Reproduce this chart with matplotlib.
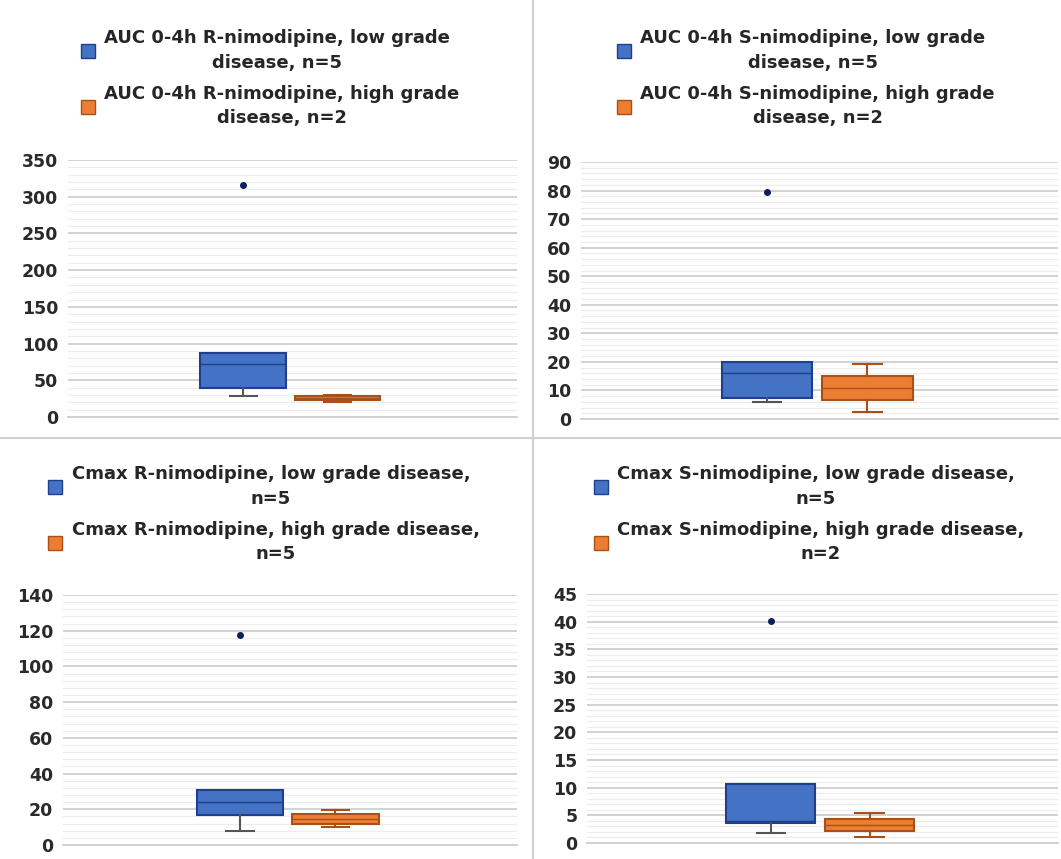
import matplotlib
matplotlib.use("Agg")
from matplotlib import pyplot as plt
from matplotlib.lines import Line2D
from matplotlib.ticker import MultipleLocator, AutoMinorLocator

plt.rcParams["font.family"] = ["DejaVu Sans"]
plt.rcParams["font.weight"] = "bold"

blue, blue_edge = "#4472C4", "#1F3F8A"
orange, orange_edge = "#ED7D31", "#A8501A"
flier_color = "#0B1F5C"

# legend labels per panel (TL, TR, BL, BR)
low_labels = [
    "AUC 0-4h R-nimodipine, low grade\ndisease, n=5",
    "AUC 0-4h S-nimodipine, low grade\ndisease, n=5",
    "Cmax R-nimodipine, low grade disease,\nn=5",
    "Cmax S-nimodipine, low grade disease,\nn=5",
]
high_labels = [
    "AUC 0-4h R-nimodipine, high grade\ndisease, n=2",
    "AUC 0-4h S-nimodipine, high grade\ndisease, n=2",
    "Cmax R-nimodipine, high grade disease,\nn=5",
    "Cmax S-nimodipine, high grade disease,\nn=2",
]

# box statistics
low_q1 = [39.5, 7.3, 16.8, 3.6]
low_med = [72, 16, 24, 4.0]
low_q3 = [87, 20, 30.8, 10.6]
low_whislo = [28.6, 6, 8, 1.8]
low_whishi = [87, 20, 30.8, 10.6]
low_outlier = [316, 79.5, 117.6, 40.1]

high_q1 = [22.5, 6.7, 12, 2.2]
high_med = [26, 11, 14.5, 3.2]
high_q3 = [29, 15, 17.2, 4.4]
high_whislo = [21, 2.5, 10.2, 1.1]
high_whishi = [29.5, 19.3, 19.6, 5.5]

y_max = [350, 90, 140, 45]
y_step = [50, 10, 20, 5]

# layout in pixels: left, right, top, bottom of plot area; legend center x, legend top y
W, H = 1061, 859
plot_boxes = [(68, 517, 160, 417), (581, 1058, 162, 419), (63, 517, 595, 845), (587, 1058, 594, 843)]
legend_pos = [(270, 13), (806, 13), (264, 449), (809, 449)]

fig = plt.figure(figsize=(W / 100, H / 100), dpi=100)

for i in range(4):
    l, r, t, b = plot_boxes[i]
    ax = fig.add_axes([l / W, 1 - b / H, (r - l) / W, (b - t) / H])

    stats = [
        dict(q1=low_q1[i], med=low_med[i], q3=low_q3[i], whislo=low_whislo[i],
             whishi=low_whishi[i], fliers=[low_outlier[i]]),
        dict(q1=high_q1[i], med=high_med[i], q3=high_q3[i], whislo=high_whislo[i],
             whishi=high_whishi[i], fliers=[]),
    ]
    bp = ax.bxp(stats, positions=[0.39, 0.60], widths=0.19, capwidths=0.06,
                patch_artist=True, showfliers=True, manage_ticks=False, zorder=3)
    for patch, fc, ec in zip(bp["boxes"], [blue, orange], [blue_edge, orange_edge]):
        patch.set_facecolor(fc)
        patch.set_edgecolor(ec)
        patch.set_linewidth(1.5)
    for j, ec in enumerate([blue_edge, orange_edge]):
        bp["medians"][j].set_color(ec)
        bp["medians"][j].set_linewidth(1.0)
        wc = "#555555" if j == 0 else ec
        for k in (2 * j, 2 * j + 1):
            bp["whiskers"][k].set_color(wc)
            bp["whiskers"][k].set_linewidth(1.5)
            bp["caps"][k].set_color(wc)
            bp["caps"][k].set_linewidth(1.5)
        # no cap where the whisker has zero length
        if stats[j]["whishi"] <= stats[j]["q3"]:
            bp["caps"][2 * j + 1].set_visible(False)
    for fl in bp["fliers"]:
        fl.set_marker("o")
        fl.set_markersize(4)
        fl.set_markerfacecolor(flier_color)
        fl.set_markeredgecolor(flier_color)

    ax.set_xlim(0, 1)
    ax.set_ylim(0, y_max[i])
    ax.yaxis.set_major_locator(MultipleLocator(y_step[i]))
    ax.yaxis.set_minor_locator(AutoMinorLocator(5))
    ax.grid(axis="y", which="major", color="#cfcfcf", linewidth=1.3, zorder=0)
    ax.grid(axis="y", which="minor", color="#ececec", linewidth=0.8, zorder=0)
    ax.set_axisbelow(True)
    for side in ["top", "right", "left"]:
        ax.spines[side].set_visible(False)
    ax.spines["bottom"].set_color("#cfcfcf")
    ax.spines["bottom"].set_linewidth(1.3)
    ax.set_xticks([])
    ax.tick_params(axis="y", which="both", length=0, labelsize=12.5, labelcolor="#2a2a2a", pad=7)
    for lab in ax.get_yticklabels():
        lab.set_fontweight("bold")

    handles = [
        Line2D([], [], marker="s", ls="", markersize=10, markerfacecolor=blue, markeredgecolor=blue_edge),
        Line2D([], [], marker="s", ls="", markersize=10, markerfacecolor=orange, markeredgecolor=orange_edge),
    ]
    cx, ty = legend_pos[i]
    leg = fig.legend(handles, [low_labels[i], high_labels[i]], loc="upper center",
                     bbox_to_anchor=(cx / W, 1 - ty / H), frameon=False,
                     prop={"size": 13, "weight": "bold"}, handlelength=0.8,
                     handletextpad=0.5, labelspacing=0.75)
    for t in leg.get_texts():
        t.set_multialignment("center")
        t.set_linespacing(1.45)
        t.set_color("#262626")

# thin separators between the four pasted charts
fig.add_artist(Line2D([533 / W, 533 / W], [0, 1], color="#d0d0d0", linewidth=1.5))
fig.add_artist(Line2D([0, 1], [1 - 438 / H, 1 - 438 / H], color="#d0d0d0", linewidth=1.5))

fig.savefig("out.png", dpi=100, facecolor="white")
